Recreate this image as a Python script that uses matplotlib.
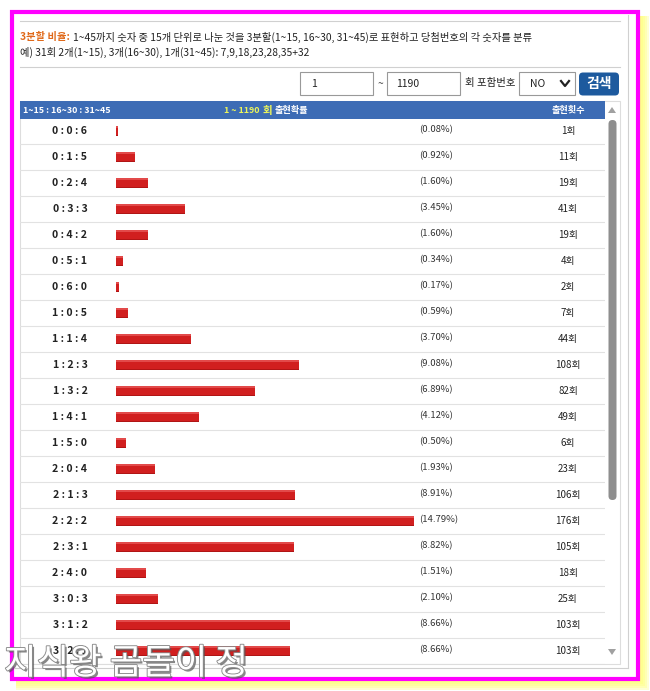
import matplotlib
matplotlib.use("Agg")
import matplotlib.pyplot as plt
from matplotlib.patches import Rectangle, FancyBboxPatch, Polygon
import matplotlib.patheffects as pe
import matplotlib.transforms as mtrans

plt.rcParams['font.family'] = ['Noto Sans CJK KR', 'DejaVu Sans']

# ---------------- data ----------------
ratios = ["0 : 0 : 6", "0 : 1 : 5", "0 : 2 : 4", "0 : 3 : 3", "0 : 4 : 2", "0 : 5 : 1",
          "0 : 6 : 0", "1 : 0 : 5", "1 : 1 : 4", "1 : 2 : 3", "1 : 3 : 2", "1 : 4 : 1",
          "1 : 5 : 0", "2 : 0 : 4", "2 : 1 : 3", "2 : 2 : 2", "2 : 3 : 1", "2 : 4 : 0",
          "3 : 0 : 3", "3 : 1 : 2", "3 : 2 : 1"]
counts = [1, 11, 19, 41, 19, 4, 2, 7, 44, 108, 82, 49, 6, 23, 106, 176, 105, 18, 25, 103, 103]
pcts = ["0.08", "0.92", "1.60", "3.45", "1.60", "0.34", "0.17", "0.59", "3.70", "9.08",
        "6.89", "4.12", "0.50", "1.93", "8.91", "14.79", "8.82", "1.51", "2.10", "8.66", "8.66"]
header_left = "1~15 : 16~30 : 31~45"
range_start, range_end = "1", "1190"
title_orange = "3분할 비율:"
title_line1 = "1~45까지 숫자 중 15개 단위로 나눈 것을 3분할(1~15, 16~30, 31~45)로 표현하고 당첨번호의 각 숫자를 분류"
title_line2 = "예) 31회 2개(1~15), 3개(16~30), 1개(31~45): 7,9,18,23,28,35+32"
watermark = "지식왕 곰돌이 정"

W, H = 650, 691
fig = plt.figure(figsize=(W / 100, H / 100), dpi=100)
fig.patch.set_facecolor('white')

ax0 = fig.add_axes([0, 0, 1, 1])
ax0.set_xlim(0, W)
ax0.set_ylim(H, 0)
ax0.axis('off')

# yellow glow behind border
for d in [1, 3, 5, 7, 9]:
    ax0.add_patch(Rectangle((16, 16), 624 + d, 665 + d, facecolor='#ffff70',
                            edgecolor='none', alpha=0.3, zorder=1))
# magenta frame
ax0.add_patch(Rectangle((12, 12), 626, 667, facecolor='white', edgecolor='#ff00ff',
                        linewidth=3.0, zorder=2))
# inner gray lines
ax0.plot([628, 628], [15, 668], color='#d0d0d0', lw=0.8, zorder=3)
ax0.plot([15, 628], [668, 668], color='#d0d0d0', lw=0.8, zorder=3)
ax0.plot([20, 620], [21, 21], color='#d0d0d0', lw=0.8, zorder=3)
ax0.plot([20, 620], [67, 67], color='#d0d0d0', lw=0.8, zorder=3)

# description text
fs_body = 7.4
ax0.text(20, 37, title_orange, color='#e06a1b', fontsize=fs_body, fontweight='bold',
         va='center', ha='left', zorder=4)
ax0.text(73, 37, title_line1, color='#222222', fontsize=fs_body, va='center', ha='left', zorder=4)
ax0.text(20, 52, title_line2, color='#222222', fontsize=fs_body, va='center', ha='left', zorder=4)

# form controls
ax0.add_patch(Rectangle((300, 72), 73, 23, facecolor='white', edgecolor='#999999', lw=0.8, zorder=4))
ax0.text(311, 84, range_start, fontsize=7.5, va='center', ha='left', color='#222222', zorder=5)
ax0.text(380, 84, "~", fontsize=7.5, va='center', ha='center', color='#444444', zorder=5)
ax0.add_patch(Rectangle((387, 72), 73, 23, facecolor='white', edgecolor='#999999', lw=0.8, zorder=4))
ax0.text(396, 84, range_end, fontsize=7.5, va='center', ha='left', color='#222222', zorder=5)
ax0.text(465, 83, "회 포함번호", fontsize=7.5, va='center', ha='left', color='#222222', zorder=5)
ax0.add_patch(Rectangle((519, 72), 56, 23, facecolor='white', edgecolor='#999999', lw=0.8, zorder=4))
ax0.text(530, 84, "NO", fontsize=7.5, va='center', ha='left', color='#222222', zorder=5)
ax0.plot([561, 565, 569], [81, 86, 81], color='#222222', lw=1.6, zorder=5)
ax0.add_patch(FancyBboxPatch((579, 72.5), 40, 23, boxstyle="round,pad=0,rounding_size=4",
                             facecolor='#1d5a9e', edgecolor='none', zorder=4))
ax0.text(599, 84, "검색", fontsize=10, fontweight='bold', color='white', va='center',
         ha='center', zorder=5)

# table outer frame + header
ax0.add_patch(Rectangle((20, 101), 600, 563, facecolor='white', edgecolor='#dddddd', lw=0.8, zorder=3))
ax0.add_patch(Rectangle((20, 101), 585, 18, facecolor='#3d6cb5', edgecolor='none', zorder=4))
ax0.text(23, 110.5, header_left, fontsize=6.4, fontweight='bold', color='white',
         va='center', ha='left', zorder=5)
ax0.text(260, 110.5, f"{range_start} ~ {range_end}", fontsize=6.4, fontweight='bold',
         color='#ecf55a', va='center', ha='right', zorder=5)
ax0.text(263, 110.5, "회", fontsize=7.6, fontweight='bold', color='#ecf55a',
         va='center', ha='left', zorder=5)
ax0.text(275, 110.5, "출현확률", fontsize=6.6, fontweight='bold', color='white',
         va='center', ha='left', zorder=5)
ax0.text(568, 110.5, "출현횟수", fontsize=6.6, fontweight='bold', color='white',
         va='center', ha='center', zorder=5)

# scrollbar
ax0.add_patch(Polygon([[608, 113], [616, 113], [612, 107]], closed=True,
                      facecolor='#a0a0a0', edgecolor='none', zorder=5))
ax0.add_patch(FancyBboxPatch((608.5, 120), 8, 380, boxstyle="round,pad=0,rounding_size=4",
                             facecolor='#8e8e8e', edgecolor='none', zorder=5))
ax0.add_patch(Polygon([[608, 649], [616, 649], [612, 655]], closed=True,
                      facecolor='#a0a0a0', edgecolor='none', zorder=5))

# ---------------- table / bar axes ----------------
tl, tr, tt, tb = 20, 605, 119, 664
ax = fig.add_axes([tl / W, 1 - tb / H, (tr - tl) / W, (tb - tt) / H])
ax.set_zorder(6)
ax.patch.set_alpha(0)
row_h = 26.0
first_c = 131.0
ax.set_ylim((tb - first_c) / row_h, (tt - first_c) / row_h)
px_per = (414 - 116) / max(counts)
ax.set_xlim(-(116 - tl) / px_per, (tr - 116) / px_per)
ax.axis('off')

rows = list(range(len(counts)))
ax.barh(rows, counts, height=0.4, left=0, color='#d11f1f', edgecolor='none', zorder=3)
ax.barh([r - 0.14 for r in rows], counts, height=0.07, left=0, color='#e24a4a',
        edgecolor='none', zorder=4)
ax.barh([r + 0.17 for r in rows], counts, height=0.06, left=0, color='#b01515',
        edgecolor='none', zorder=4)

for r in rows:
    ax.axhline(r + 0.5, color='#e2e2e2', lw=0.8, zorder=1)

trans = mtrans.blended_transform_factory(ax.transAxes, ax.transData)
for r, lab, p, c in zip(rows, ratios, pcts, counts):
    ax.text((70 - tl) / (tr - tl), r, lab, transform=trans, fontsize=7.6, fontweight='bold',
            ha='center', va='center', color='#222222', zorder=5)
    ax.text((419 - tl) / (tr - tl), r - 0.04, f"({p}%)", transform=trans, fontsize=6.8,
            ha='left', va='center', color='#333333', zorder=5)
    ax.text((568 - tl) / (tr - tl), r, f"{c}회", transform=trans, fontsize=7.0,
            ha='center', va='center', color='#222222', zorder=5)

# watermark
ax0w = fig.add_axes([0, 0, 1, 1])
ax0w.set_xlim(0, W)
ax0w.set_ylim(H, 0)
ax0w.axis('off')
ax0w.set_zorder(10)
ax0w.patch.set_alpha(0)
ax0w.text(4, 664, watermark, fontsize=25.5, fontweight='medium', color='white',
          ha='left', va='center',
          path_effects=[pe.withSimplePatchShadow(offset=(1.5, -1.5), shadow_rgbFace='#555555', alpha=0.7),
                        pe.withStroke(linewidth=1.3, foreground='#8a8a8a')])

fig.savefig("out.png", dpi=100)
